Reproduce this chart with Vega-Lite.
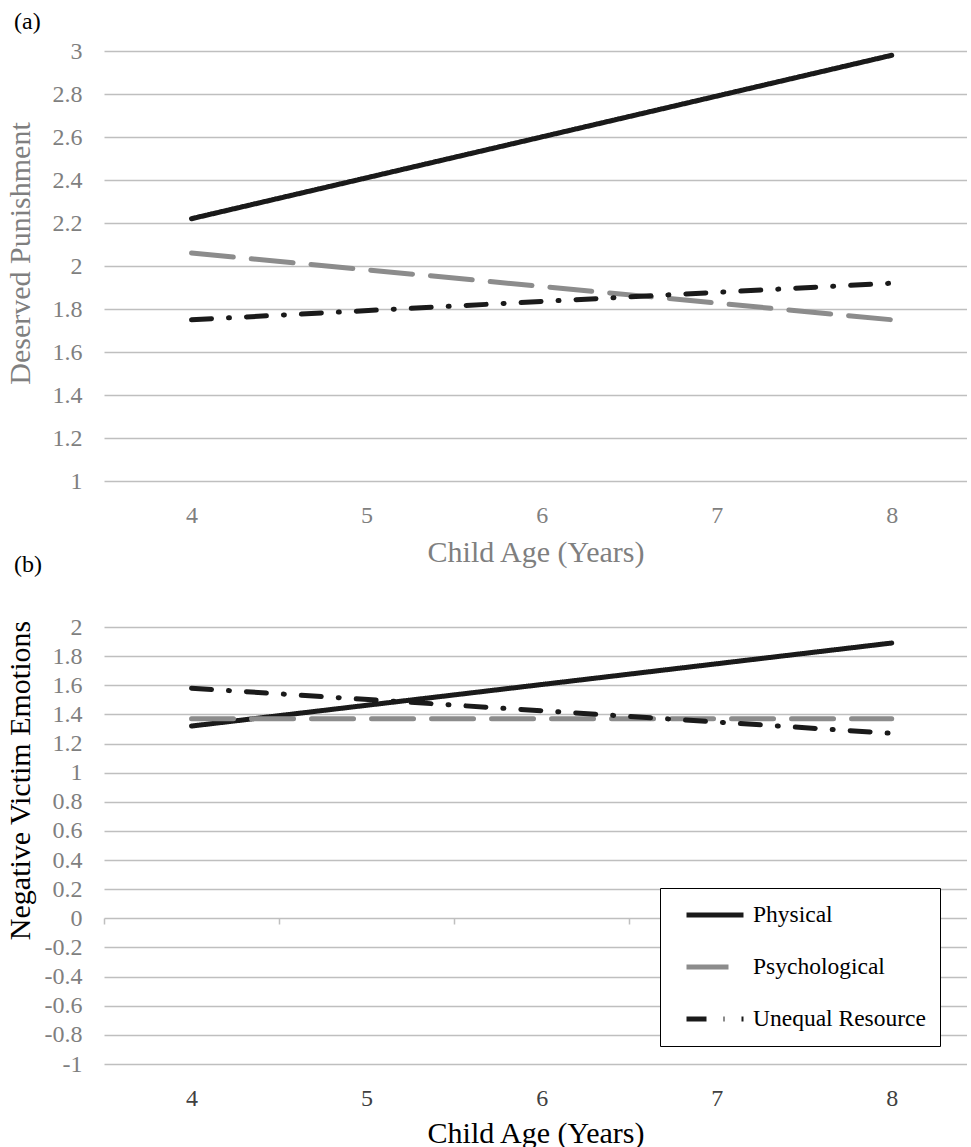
{
  "$schema": "https://vega.github.io/schema/vega-lite/v6.json",
  "background": "white",
  "padding": {"left": 4, "top": 10, "right": 0, "bottom": 0},
  "bounds": "flush",
  "spacing": 146,
  "config": {
    "view": {"stroke": null},
    "font": "Liberation Serif",
    "axis": {"labelFont": "Liberation Serif", "titleFont": "Liberation Serif"},
    "legend": {"labelFont": "Liberation Serif"},
    "title": {"font": "Liberation Serif", "fontWeight": "normal", "color": "black", "fontSize": 24}
  },
  "datasets": {
    "a": [
      {"type": "Physical", "age": 4, "value": 2.22},
      {"type": "Physical", "age": 8, "value": 2.98},
      {"type": "Psychological", "age": 4, "value": 2.06},
      {"type": "Psychological", "age": 8, "value": 1.75},
      {"type": "Unequal Resource", "age": 4, "value": 1.75},
      {"type": "Unequal Resource", "age": 8, "value": 1.92}
    ],
    "b": [
      {"type": "Physical", "age": 4, "value": 1.32},
      {"type": "Physical", "age": 8, "value": 1.89},
      {"type": "Psychological", "age": 4, "value": 1.37},
      {"type": "Psychological", "age": 8, "value": 1.37},
      {"type": "Unequal Resource", "age": 4, "value": 1.58},
      {"type": "Unequal Resource", "age": 8, "value": 1.27}
    ]
  },
  "resolve": {"scale": {"color": "independent", "strokeDash": "independent"}},
  "vconcat": [
    {
      "width": 863,
      "height": 430,
      "title": {"text": "(a)", "anchor": "start", "frame": "group", "dx": -90, "offset": 5},
      "data": {"name": "a"},
      "mark": {"type": "line", "strokeWidth": 5, "strokeCap": "round"},
      "encoding": {
        "x": {
          "field": "age", "type": "quantitative",
          "scale": {"domain": [3.5, 8.43], "nice": false, "zero": false},
          "axis": {
            "values": [4, 5, 6, 7, 8], "format": "d", "grid": false, "domain": false, "ticks": false,
            "labelFont": "Liberation Serif", "labelFontSize": 24, "labelColor": "#7f7f7f", "labelPadding": 22,
            "title": "Child Age (Years)", "titleFont": "Liberation Serif", "titleFontSize": 30,
            "titleFontWeight": "normal", "titleColor": "#7f7f7f", "titlePadding": 10
          }
        },
        "y": {
          "field": "value", "type": "quantitative",
          "scale": {"domain": [1, 3], "nice": false, "zero": false},
          "axis": {
            "values": [1, 1.2, 1.4, 1.6, 1.8, 2, 2.2, 2.4, 2.6, 2.8, 3],
            "labelExpr": "(datum.value < 0 ? '-' : '') + format(abs(datum.value), '~g')",
            "grid": true, "gridColor": "#bfbfbf", "gridWidth": 1.5,
            "domain": false, "ticks": false,
            "labelFont": "Liberation Serif", "labelFontSize": 24, "labelColor": "#7f7f7f", "labelPadding": 22,
            "title": "Deserved Punishment", "titleFont": "Liberation Serif", "titleFontSize": 30,
            "titleFontWeight": "normal", "titleColor": "#7f7f7f",
            "titleX": -75, "titleY": 202, "titleBaseline": "alphabetic", "titleAngle": -90
          }
        },
        "color": {
          "field": "type", "type": "nominal",
          "scale": {"domain": ["Physical", "Psychological", "Unequal Resource"], "range": ["#1a1a1a", "#8c8c8c", "#1a1a1a"]},
          "legend": null
        },
        "strokeDash": {
          "field": "type", "type": "nominal",
          "scale": {"domain": ["Physical", "Psychological", "Unequal Resource"], "range": [[1, 0], [42, 18], [20, 17, 1, 17]]},
          "legend": null
        }
      }
    },
    {
      "width": 863,
      "height": 437,
      "title": {"text": "(b)", "anchor": "start", "frame": "group", "dx": -90, "offset": 38},
      "data": {"name": "b"},
      "resolve": {"axis": {"x": "independent"}},
      "layer": [
        {
          "mark": {"type": "line", "strokeWidth": 5, "strokeCap": "round"},
          "encoding": {
            "x": {
              "field": "age", "type": "quantitative",
              "scale": {"domain": [3.5, 8.43], "nice": false, "zero": false},
              "axis": {
                "orient": "bottom",
                "values": [4, 5, 6, 7, 8], "format": "d", "grid": false, "domain": false, "ticks": false,
                "labelFont": "Liberation Serif", "labelFontSize": 24, "labelColor": "#404040", "labelPadding": 22,
                "title": "Child Age (Years)", "titleFont": "Liberation Serif", "titleFontSize": 30,
                "titleFontWeight": "normal", "titleColor": "black", "titlePadding": 8
              }
            },
            "y": {
              "field": "value", "type": "quantitative",
              "scale": {"domain": [-1, 2], "nice": false, "zero": false},
              "axis": {
                "values": [-1, -0.8, -0.6, -0.4, -0.2, 0, 0.2, 0.4, 0.6, 0.8, 1, 1.2, 1.4, 1.6, 1.8, 2],
                "labelExpr": "(datum.value < 0 ? '-' : '') + format(abs(datum.value), '~g')",
                "grid": true, "gridColor": "#bfbfbf", "gridWidth": 1.5,
                "domain": false, "ticks": false,
                "labelFont": "Liberation Serif", "labelFontSize": 24, "labelColor": "#7f7f7f", "labelPadding": 22,
                "title": "Negative Victim Emotions", "titleFont": "Liberation Serif", "titleFontSize": 30,
                "titleFontWeight": "normal", "titleColor": "black",
                "titleX": -75, "titleY": 153, "titleBaseline": "alphabetic", "titleAngle": -90
              }
            },
            "color": {
              "field": "type", "type": "nominal",
              "scale": {"domain": ["Physical", "Psychological", "Unequal Resource"], "range": ["#1a1a1a", "#8c8c8c", "#1a1a1a"]},
              "legend": {
                "title": null, "orient": "none", "legendX": 556, "legendY": 261,
                "strokeColor": "black", "fillColor": "white", "padding": 14, "rowPadding": 26,
                "symbolType": "stroke", "symbolSize": 3249, "clipHeight": 26, "symbolOffset": 10,
                "labelOffset": 7, "symbolStrokeWidth": 5, "labelLimit": 400,
                "labelFont": "Liberation Serif", "labelFontSize": 23.5, "labelColor": "black"
              }
            },
            "strokeDash": {
              "field": "type", "type": "nominal",
              "scale": {"domain": ["Physical", "Psychological", "Unequal Resource"], "range": [[1, 0], [42, 18], [20, 17, 1, 17]]},
              "legend": {
                "title": null, "orient": "none", "legendX": 556, "legendY": 261,
                "strokeColor": "black", "fillColor": "white", "padding": 14, "rowPadding": 26,
                "symbolType": "stroke", "symbolSize": 3249, "clipHeight": 26, "symbolOffset": 10,
                "labelOffset": 7, "symbolStrokeWidth": 5, "labelLimit": 400,
                "labelFont": "Liberation Serif", "labelFontSize": 23.5, "labelColor": "black"
              }
            }
          }
        },
        {
          "mark": {"type": "point", "opacity": 0},
          "encoding": {
            "x": {
              "field": "age", "type": "quantitative",
              "axis": {
                "orient": "bottom", "offset": -146,
                "values": [3.5, 4.5, 5.5, 6.5, 7.5], "grid": false, "domain": false,
                "ticks": true, "tickColor": "#bfbfbf", "tickWidth": 1.5, "tickSize": 6,
                "labels": false, "title": null
              }
            }
          }
        }
      ]
    }
  ]
}
